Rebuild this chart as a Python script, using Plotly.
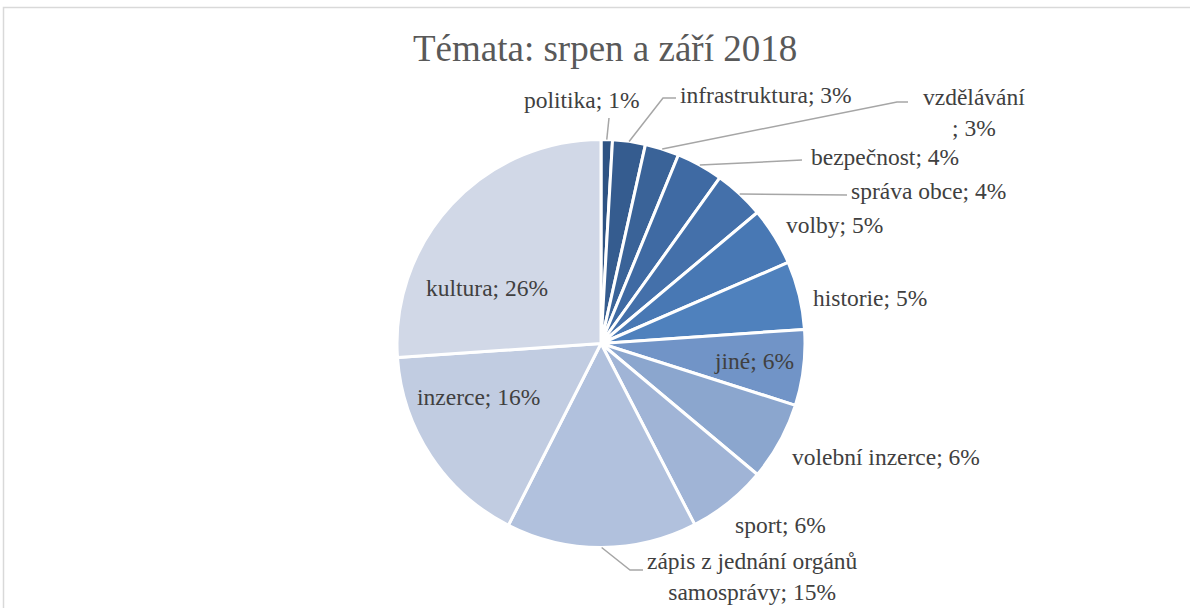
import math
import plotly.graph_objects as go

# ---- data ----
categories = ["politika", "infrastruktura", "vzdělávání", "bezpečnost", "správa obce",
              "volby", "historie", "jiné", "volební inzerce", "sport",
              "zápis z jednání orgánů samosprávy", "inzerce", "kultura"]
values = [0.9, 2.6, 2.7, 3.7, 4.0, 4.6, 5.4, 6.0, 6.2, 6.3, 15.1, 16.4, 26.1]
title_text = "Témata: srpen a září 2018"

# ---- styles ----
colors = ["#2E5383", "#355C8F", "#3A6398", "#3F6AA3", "#4470AA", "#4878B4", "#4F81BD",
          "#7194C7", "#8BA6CE", "#A0B4D6", "#B1C1DD", "#C1CCE1", "#D1D8E7"]
W, H = 1190, 608
CX, CY, R = 601, 343.5, 204          # pie centre / radius in px
FONT = "Liberation Serif"

# label centres in px (layout)
label_pos = {
    "politika": (582, 100),
    "infrastruktura": (766, 95),
    "vzdělávání": (974, 112),
    "bezpečnost": (885, 157),
    "správa obce": (928, 191),
    "volby": (835, 225),
    "historie": (870, 298),
    "jiné": (754, 361),
    "volební inzerce": (886, 457),
    "sport": (780, 525),
    "zápis z jednání orgánů samosprávy": (752, 576),
    "inzerce": (478, 397),
    "kultura": (487, 288),
}
# leader-line elbow and end points in px (layout), drawn from the slice edge
leaders = {
    "politika": [(609, 118)],
    "infrastruktura": [(663, 98), (676, 98)],
    "vzdělávání": [(897, 102), (908, 102)],
    "bezpečnost": [(802, 160)],
    "správa obce": [(847, 195)],
    "zápis z jednání orgánů samosprávy": [(630, 570), (643, 570)],
}
line_breaks = {
    "vzdělávání": "vzdělávání<br>",
    "zápis z jednání orgánů samosprávy": "zápis z jednání orgánů<br>samosprávy",
}

fig = go.Figure(go.Pie(
    labels=categories,
    values=values,
    sort=False,
    direction="clockwise",
    rotation=0,
    marker=dict(colors=colors, line=dict(color="white", width=3)),
    textinfo="none",
    hoverinfo="label+percent",
    showlegend=False,
    domain=dict(x=[(CX - R) / W, (CX + R) / W], y=[1 - (CY + R) / H, 1 - (CY - R) / H]),
))


def to_paper(px, py):
    return px / W, 1 - py / H


total = sum(values)
cum = 0.0
annotations = []
shapes = [dict(type="rect", xref="paper", yref="paper",
               x0=3.5 / W, x1=1.02, y0=-0.02, y1=1 - 7.5 / H,
               line=dict(color="#D9D9D9", width=1.5), fillcolor="rgba(0,0,0,0)", layer="below")]
for name, v in zip(categories, values):
    mid = (cum + v / 2) / total * 2 * math.pi
    cum += v
    tipx = CX + R * math.sin(mid)
    tipy = CY - R * math.cos(mid)
    pct = round(v / total * 100)
    text = f"{line_breaks.get(name, name)}; {pct}%"
    lx, ly = label_pos[name]
    annotations.append(dict(
        x=lx / W, y=1 - ly / H, xref="paper", yref="paper",
        xanchor="center", yanchor="middle", text=text, showarrow=False,
        font=dict(family=FONT, size=23.5, color="#404040"), align="center",
    ))
    if name in leaders:
        pts = [(tipx, tipy)] + leaders[name]
        path = ""
        for i, (px, py) in enumerate(pts):
            x, y = to_paper(px, py)
            path += ("M" if i == 0 else " L") + f"{x:.5f},{y:.5f}"
        shapes.append(dict(type="path", xref="paper", yref="paper", path=path,
                           line=dict(color="#A6A6A6", width=1.5)))

annotations.append(dict(
    x=605 / W, y=1 - 49 / H, xref="paper", yref="paper", xanchor="center", yanchor="middle",
    text=title_text, showarrow=False, font=dict(family=FONT, size=37, color="#595959"),
))

fig.update_layout(
    width=W, height=H,
    margin=dict(l=0, r=0, t=0, b=0),
    paper_bgcolor="white",
    plot_bgcolor="white",
    annotations=annotations,
    shapes=shapes,
)

fig.write_html("out.html", config={"displayModeBar": False},
               post_script="document.body.style.margin='0';document.body.style.overflow='hidden';")
